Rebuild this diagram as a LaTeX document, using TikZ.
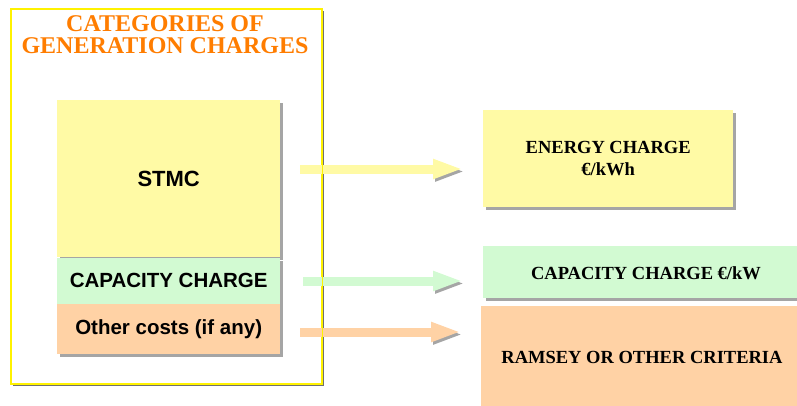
\documentclass[tikz,border=0pt]{standalone}
\usepackage{fontspec}
\setmainfont{Liberation Serif}
\setsansfont{Liberation Sans}
\usetikzlibrary{positioning,shadows,arrows.meta}
\definecolor{costyellow}{RGB}{255,250,165}
\definecolor{costgreen}{RGB}{210,250,210}
\definecolor{costpeach}{RGB}{255,210,165}
\definecolor{titleorange}{RGB}{255,125,0}
\tikzset{
  frameline/.style={draw=yellow, line width=1.5pt},
  costbox/.style={inner sep=0pt, minimum width=223pt, align=center,
    font=\sffamily\bfseries\fontsize{20.5}{24}\selectfont,
    drop shadow={shadow xshift=3pt, shadow yshift=-3pt, opacity=0.5, fill=black!70}},
  chargebox/.style={inner sep=0pt, align=center,
    font=\bfseries\fontsize{18.5}{22}\selectfont,
    drop shadow={shadow xshift=3pt, shadow yshift=-3pt, opacity=0.5, fill=black!70}},
  fatarrow/.style={line width=9pt, -{Triangle[length=30pt,width=18pt]},
    shorten >=20pt,
    preaction={draw=black!70, opacity=0.5, transform canvas={shift={(2pt,-2.5pt)}}}},
}
\begin{document}
\begin{tikzpicture}[x=1pt, y=-1pt]
  \useasboundingbox (0,0) rectangle (797,405);
  \clip (0,0) rectangle (797,405);
  % outer frame with title
  \node[frameline, fill=white, minimum width=311pt, minimum height=375pt, inner sep=0pt,
    anchor=north west, drop shadow={shadow xshift=2pt, shadow yshift=-2pt, opacity=0.7, fill=black!80}]
    (frame) at (10,8) {};
  \node[text=titleorange, font=\bfseries\fontsize{24}{22}\selectfont, align=center]
    (title) at (165,35) {CATEGORIES OF\\GENERATION CHARGES};
  % cost stack
  \node[costbox, fill=costyellow, minimum height=157pt, anchor=north west,
    font=\sffamily\bfseries\fontsize{22}{24}\selectfont] (stmc) at (57,100) {STMC};
  \node[costbox, fill=costgreen, minimum height=46pt, below=0pt of stmc] (capacity) {CAPACITY CHARGE};
  \node[costbox, fill=costpeach, minimum height=50pt, below=0pt of capacity] (other) {Other costs (if any)};
  % charges
  \node[chargebox, fill=costyellow, minimum width=250pt, minimum height=97pt, anchor=north west]
    (energy) at (483,110) {ENERGY CHARGE\\€/kWh};
  \node[chargebox, fill=costgreen, minimum width=330pt, minimum height=52pt, anchor=north west]
    (capkw) at (483,246) {};
  \node[font=\bfseries\fontsize{18.5}{22}\selectfont] (capkwtext) at (646,273) {CAPACITY CHARGE €/kW};
  \node[chargebox, fill=costpeach, minimum width=330pt, minimum height=110pt, anchor=north west]
    (ramsey) at (481,306) {};
  \node[font=\bfseries\fontsize{18.5}{22}\selectfont] (ramseytext) at (642,357) {RAMSEY OR OTHER CRITERIA};
  % arrows
  \coordinate (a1) at (300,169);
  \coordinate (a2) at (303,281);
  \coordinate (a3) at (300,332);
  \draw[fatarrow, costyellow] (a1) -- (a1 -| energy.west);
  \draw[fatarrow, costgreen] (a2) -- (a2 -| capkw.west);
  \draw[fatarrow, costpeach] (a3) -- (a3 -| ramsey.west);
  \draw[frameline] (frame.north east) -- (frame.south east);
\end{tikzpicture}
\end{document}
